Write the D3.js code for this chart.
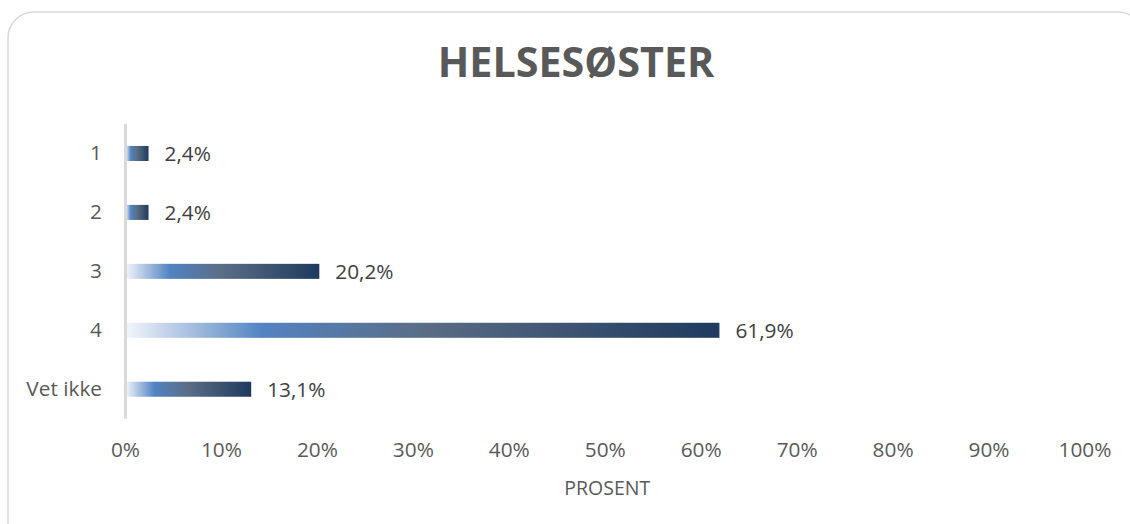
<!DOCTYPE html>
<html>
<head>
<meta charset="utf-8">
<title>Helsesøster</title>
<script src="https://d3js.org/d3.v7.min.js"></script>
<style>
  body { margin: 0; background: #fff; }
  svg { display: block; font-family: "Open Sans", sans-serif; }
</style>
</head>
<body>
<div id="chart"></div>
<script>
// data
var categories = ["1", "2", "3", "4", "Vet ikke"];
var values = [2.4, 2.4, 20.2, 61.9, 13.1];
var ticks = [0, 10, 20, 30, 40, 50, 60, 70, 80, 90, 100];
var title = "HELSESØSTER";
var axisTitle = "PROSENT";

var W = 1130, H = 524;

var svg = d3.select("#chart").append("svg")
    .attr("width", W)
    .attr("height", H);

// bar gradient, one per bar (objectBoundingBox)
var grad = svg.append("defs").append("linearGradient")
    .attr("id", "barGrad")
    .attr("x1", "0%").attr("x2", "100%").attr("y1", "0%").attr("y2", "0%");
grad.append("stop").attr("offset", "0%").attr("stop-color", "#f3f6fb");
grad.append("stop").attr("offset", "23%").attr("stop-color", "#5283c2");
grad.append("stop").attr("offset", "50%").attr("stop-color", "#5a6d85");
grad.append("stop").attr("offset", "100%").attr("stop-color", "#1f3a5e");

// chart border
svg.append("rect")
    .attr("x", 8).attr("y", 12)
    .attr("width", 1136).attr("height", 540)
    .attr("rx", 26)
    .attr("fill", "none")
    .attr("stroke", "#d9d9d9")
    .attr("stroke-width", 1.5);

// title
svg.append("text")
    .attr("x", 576).attr("y", 77)
    .attr("text-anchor", "middle")
    .attr("font-size", 41.3)
    .attr("font-weight", "bold")
    .attr("fill", "#595959")
    .text(title);

var x = d3.scaleLinear().domain([0, 100]).range([125.5, 1085]);
var y = d3.scaleBand().domain(categories).range([124, 418.7])
    .paddingInner(0.745).paddingOuter(0.745 / 2);

// bars
svg.selectAll(".bar").data(values).enter().append("rect")
    .attr("class", "bar")
    .attr("x", x(0))
    .attr("y", function(d, i) { return y(categories[i]); })
    .attr("width", function(d) { return x(d) - x(0); })
    .attr("height", y.bandwidth())
    .attr("fill", "url(#barGrad)");

// vertical axis line
svg.append("line")
    .attr("x1", x(0)).attr("x2", x(0))
    .attr("y1", 124).attr("y2", 418.7)
    .attr("stroke", "#d9d9d9")
    .attr("stroke-width", 3);

// category labels
svg.selectAll(".cat").data(categories).enter().append("text")
    .attr("class", "cat")
    .attr("x", 102)
    .attr("y", function(d) { return y(d) + y.bandwidth() / 2 + 7; })
    .attr("text-anchor", "end")
    .attr("font-size", 20.8)
    .attr("fill", "#595959")
    .text(function(d) { return d; });

// data labels
svg.selectAll(".lbl").data(values).enter().append("text")
    .attr("class", "lbl")
    .attr("x", function(d) { return x(d) + 16; })
    .attr("y", function(d, i) { return y(categories[i]) + y.bandwidth() / 2 + 8; })
    .attr("font-size", 20.8)
    .attr("fill", "#404040")
    .text(function(d) { return d.toFixed(1).replace(".", ",") + "%"; });

// x tick labels
svg.selectAll(".tick").data(ticks).enter().append("text")
    .attr("class", "tick")
    .attr("x", function(d) { return x(d); })
    .attr("y", 457)
    .attr("text-anchor", "middle")
    .attr("font-size", 20.8)
    .attr("fill", "#595959")
    .text(function(d) { return d + "%"; });

// axis title
svg.append("text")
    .attr("x", (x(0) + x(100)) / 2 + 2).attr("y", 495)
    .attr("text-anchor", "middle")
    .attr("font-size", 19.5)
    .attr("fill", "#595959")
    .text(axisTitle);
</script>
</body>
</html>
